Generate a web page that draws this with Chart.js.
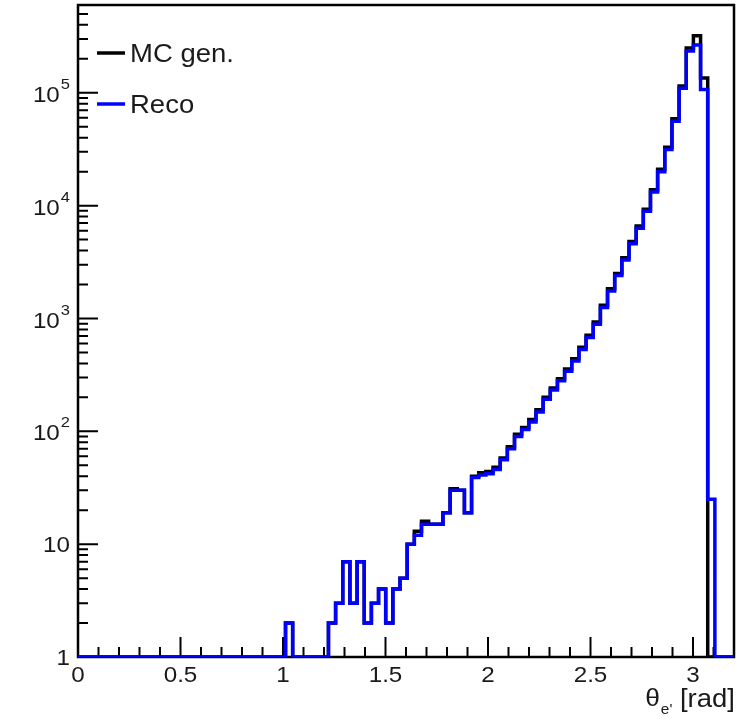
<!DOCTYPE html>
<html>
<head>
<meta charset="utf-8">
<script src="https://cdn.jsdelivr.net/npm/chart.js@4.4.1/dist/chart.umd.min.js"></script>
<style>
  html, body { margin: 0; padding: 0; background: #fff; }
  #wrap { width: 739px; height: 721px; }
</style>
</head>
<body>
<div id="wrap"><canvas id="theta-chart" width="739" height="721"></canvas></div>
<script>
// electron polar angle, 90 bins over [0, pi]
var thetaMax = Math.PI;
var axisMax = 3.2;
var yMin = 1;
var yMax = 6e5;

var mcGen = [
    0, 0, 0, 0, 0, 0, 0, 0, 0, 0,
    0, 0, 0, 0, 0, 0, 0, 0, 0, 0,
    0, 0, 0, 0, 0, 0, 0, 0, 0, 2,
    0, 0, 0, 0, 0, 2, 3, 7, 3, 7,
    2, 3, 4, 2, 4, 5, 10, 13, 16, 15,
    15, 19, 31, 30, 19, 40, 43, 44, 48, 58,
    73, 94, 108, 127, 155, 200, 242, 292, 356, 440,
    555, 710, 930, 1310, 1830, 2510, 3450, 4800, 6600, 9300,
    13800, 21000, 33000, 59000, 115000, 250000, 320000, 135000, 0, 0
];

var reco = [
    0, 0, 0, 0, 0, 0, 0, 0, 0, 0,
    0, 0, 0, 0, 0, 0, 0, 0, 0, 0,
    0, 0, 0, 0, 0, 0, 0, 0, 0, 2,
    0, 0, 0, 0, 0, 2, 3, 7, 3, 7,
    2, 3, 4, 2, 4, 5, 10, 12, 15, 15,
    15, 19, 30, 30, 19, 39, 41, 42, 46, 56,
    70, 90, 104, 121, 148, 192, 232, 280, 340, 420,
    530, 680, 890, 1250, 1750, 2400, 3300, 4600, 6300, 8900,
    13200, 20000, 31500, 56000, 110000, 235000, 265000, 107000, 25, 0
];

var seriesNames = ['MC gen.', 'Reco'];
var seriesColors = ['#000000', '#0000ff'];

var xTickLabels = ['0', '0.5', '1', '1.5', '2', '2.5', '3'];
var yDecades = [0, 1, 2, 3, 4, 5];

var family = '"Liberation Sans", Arial, sans-serif';
var textColor = '#1a1a1a';
var stretch = 1.1;   // labels are drawn a little wide

// draw text with horizontal stretch, anchored like fillText
var wideText = (c, txt, x, y, size, align) => {
    c.save();
    c.font = size + 'px ' + family;
    var w = c.measureText(txt).width * stretch;
    var x0 = align === 'right' ? x - w : (align === 'center' ? x - w / 2 : x);
    c.translate(x0, y);
    c.scale(stretch, 1);
    c.textAlign = 'left';
    c.fillText(txt, 0, 0);
    c.restore();
    return w;
};

// bin contents -> step points at the left bin edges, empty bins sit on the floor
var toSteps = (counts) => {
    var w = thetaMax / counts.length;
    var pts = counts.map((c, i) => ({ x: i * w, y: Math.max(c, yMin) }));
    pts.push({ x: thetaMax, y: yMin });
    pts.push({ x: axisMax, y: yMin });
    return pts;
};

// ROOT style frame with inward ticks
var frameTicks = {
    id: 'frameTicks',
    beforeDatasetsDraw: (chart) => {
        var c = chart.ctx, a = chart.chartArea;
        var xs = chart.scales.x, ys = chart.scales.y;
        c.save();
        c.strokeStyle = '#000';
        c.lineWidth = 2;
        c.beginPath();
        for (var i = 0; i <= Math.round(axisMax * 10); i++) {
            var px = xs.getPixelForValue(i / 10);
            var len = i % 5 === 0 ? 20 : 10;
            c.moveTo(px, a.bottom);
            c.lineTo(px, a.bottom - len);
        }
        yDecades.forEach((d) => {
            for (var m = 1; m <= 9; m++) {
                var v = m * Math.pow(10, d);
                if (v > yMax) break;
                var py = ys.getPixelForValue(v);
                c.moveTo(a.left, py);
                c.lineTo(a.left + (m === 1 ? 20 : 10), py);
            }
        });
        c.stroke();
        c.lineWidth = 2.5;
        c.strokeRect(a.left, a.top, a.right - a.left, a.bottom - a.top);
        c.restore();
    },
    afterDatasetsDraw: (chart) => {
        var c = chart.ctx, a = chart.chartArea;
        var xs = chart.scales.x, ys = chart.scales.y;
        c.save();
        c.fillStyle = textColor;
        c.textBaseline = 'middle';

        // x labels
        xTickLabels.forEach((t) => {
            wideText(c, t, xs.getPixelForValue(parseFloat(t)), a.bottom + 19, 22, 'center');
        });

        // y labels, 10^n with a raised exponent
        yDecades.forEach((d) => {
            var py = ys.getPixelForValue(Math.pow(10, d));
            var right = a.left - 8;
            if (d < 2) {
                wideText(c, String(Math.pow(10, d)), right, py + 2, 22, 'right');
            } else {
                var ew = wideText(c, String(d), right, py - 8, 15, 'right');
                wideText(c, '10', right - ew - 1, py + 3, 22, 'right');
            }
        });

        // axis title, right aligned to the frame
        var tw = wideText(c, ' [rad]', a.right + 1, 700, 25, 'right');
        var sw = wideText(c, "e'", a.right + 1 - tw, 710, 14, 'right');
        wideText(c, '\u03b8', a.right - tw - sw, 699, 24, 'right');

        // legend
        chart.data.datasets.forEach((ds, i) => {
            var ly = i === 0 ? 53 : 104;
            c.strokeStyle = ds.borderColor;
            c.lineWidth = 3.5;
            c.beginPath();
            c.moveTo(97, ly);
            c.lineTo(125, ly);
            c.stroke();
            c.fillStyle = textColor;
            wideText(c, ds.label, 130, ly + 2, 25, 'left');
        });
        c.restore();
    }
};

var chart = new Chart(document.getElementById('theta-chart').getContext('2d'), {
    type: 'line',
    data: {
        datasets: [{
            label: seriesNames[0],
            data: toSteps(mcGen),
            borderColor: seriesColors[0],
            borderWidth: 3.5,
            stepped: 'before',
            pointRadius: 0,
            fill: false,
            order: 1
        }, {
            label: seriesNames[1],
            data: toSteps(reco),
            borderColor: seriesColors[1],
            borderWidth: 3.5,
            stepped: 'before',
            pointRadius: 0,
            fill: false,
            order: 0
        }]
    },
    options: {
        responsive: false,
        animation: false,
        devicePixelRatio: 1,
        layout: { padding: { left: 78, right: 5, top: 5, bottom: 64 } },
        plugins: { legend: { display: false }, tooltip: { enabled: false } },
        scales: {
            x: { type: 'linear', min: 0, max: axisMax, display: false },
            y: { type: 'logarithmic', min: yMin, max: yMax, display: false }
        }
    },
    plugins: [frameTicks]
});
</script>
</body>
</html>
